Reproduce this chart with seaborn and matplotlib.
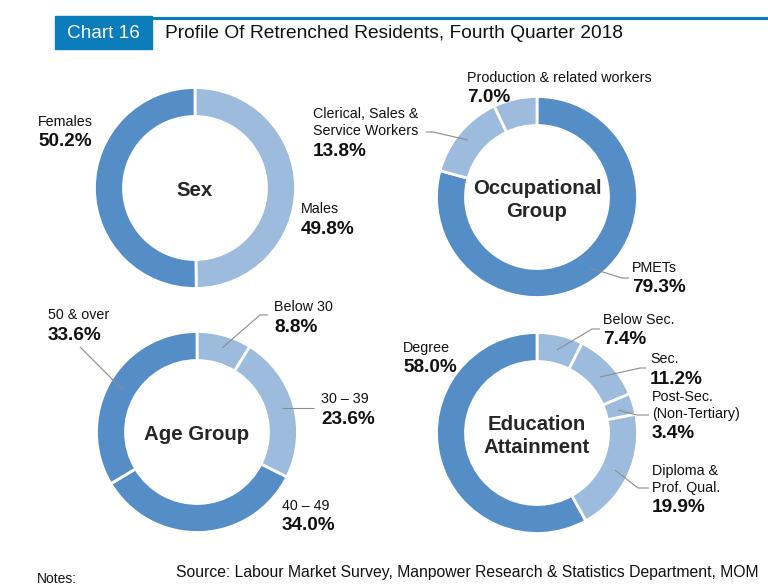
import numpy as np
import seaborn as sns
import matplotlib.pyplot as plt
from matplotlib.patches import Rectangle

# data
sex_labels = ["Males", "Females"]
sex_values = [49.8, 50.2]

occ_labels = ["PMETs", "Clerical, Sales &\nService Workers", "Production & related workers"]
occ_values = [79.3, 13.8, 7.0]

age_labels = ["Below 30", "30 \u2013 39", "40 \u2013 49", "50 & over"]
age_values = [8.8, 23.6, 34.0, 33.6]

edu_labels = ["Below Sec.", "Sec.", "Post-Sec.\n(Non-Tertiary)", "Diploma &\nProf. Qual.", "Degree"]
edu_values = [7.4, 11.2, 3.4, 19.9, 58.0]

DARK = "#558ec6"
LIGHT = "#9dbbdc"
GREY = "#8c8c8c"


def donut(ax, values, colors, center, title, labels, label_pos, leaders):
    """Draw one ring with its centre title and labels (pixel coords)."""
    ax.pie(values, colors=colors, startangle=270, counterclock=True,
           center=center, radius=100.5,
           wedgeprops=dict(width=29, edgecolor="white", linewidth=2))
    ax.text(center[0], center[1] + 3, title, ha="center", va="center",
            fontsize=14.7, fontweight="bold", linespacing=1.32)
    for lab, val, (x, y) in zip(labels, values, label_pos):
        n = lab.count("\n") + 1
        ax.text(x, y + (n - 1) * 8.5, lab, ha="left", va="center",
                fontsize=10.3, linespacing=1.2, color="#111111")
        ax.text(x, y + (n - 1) * 17 + 20, f"{val:.1f}%", ha="left",
                va="center", fontsize=13.7, fontweight="bold", color="#111111")
    for xs, ys in leaders:
        ax.plot(xs, ys, color=GREY, lw=0.8, solid_capstyle="butt")


if __name__ == "__main__":
    sns.set_theme(style="white")
    plt.rcParams["font.family"] = ["Liberation Sans", "DejaVu Sans"]

    fig = plt.figure(figsize=(7.68, 5.87), dpi=100)
    ax = fig.add_axes([0, 0, 1, 1])

    donut(ax, sex_values, [LIGHT, DARK], (195, 188), "Sex", sex_labels,
          [(301, 209), (38, 122)], [])

    donut(ax, occ_values, [DARK, LIGHT, LIGHT], (537, 197),
          "Occupational\nGroup", occ_labels,
          [(632, 268), (313, 114), (467, 78)],
          [([590, 622, 629], [268, 278, 278]),
           ([426, 433, 468], [132, 132, 140])])

    donut(ax, age_values, [LIGHT, LIGHT, DARK, DARK], (197, 432),
          "Age Group", age_labels,
          [(274, 307), (321, 399), (282, 506), (48, 315)],
          [([222, 260, 268], [348, 315, 315]),
           ([282, 314], [408, 408]),
           ([80, 123], [347, 390])])

    donut(ax, edu_values, [LIGHT, LIGHT, LIGHT, LIGHT, DARK], (537, 433),
          "Education\nAttainment", edu_labels,
          [(603, 320), (650, 359), (652, 397), (652, 471), (403, 348)],
          [([557, 592, 600], [350, 329, 329]),
           ([600, 640, 646], [377, 368, 368]),
           ([618, 637, 649], [410, 415, 415]),
           ([615, 638, 649], [470, 488, 488])])

    # header
    ax.add_patch(Rectangle((55, 16), 97, 33, color="#0b7dbb", zorder=3))
    ax.plot([152, 768], [17.5, 17.5], color="#0b7dbb", lw=2.2)
    ax.text(103.5, 33, "Chart 16", ha="center", va="center", color="white",
            fontsize=13.7, zorder=4)
    ax.text(165, 33, "Profile Of Retrenched Residents, Fourth Quarter 2018",
            ha="left", va="center", fontsize=13.8, color="#111111")

    # footer
    ax.text(758, 572, "Source: Labour Market Survey, Manpower Research & "
            "Statistics Department, MOM", ha="right", va="center",
            fontsize=11.35, color="#111111")
    ax.text(37, 586, "Notes:", ha="left", va="bottom", fontsize=10, color="#111111")

    ax.set_xlim(0, 768)
    ax.set_ylim(587, 0)
    ax.set_aspect("auto")
    ax.axis("off")
    fig.savefig("out.png", dpi=100)
